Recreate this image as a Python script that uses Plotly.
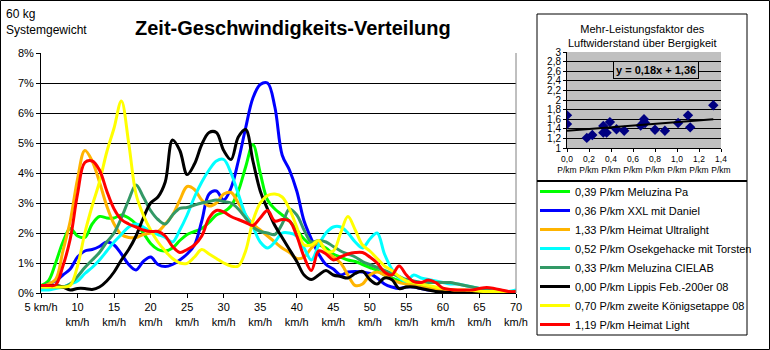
import plotly.graph_objects as go

speeds = list(range(5, 71))

# values in percent, one per km/h from 5 to 70
meluzina_pa = [0.25,0.4,1.0,1.7,2.15,1.9,1.85,2.3,2.55,2.5,
               2.5,2.6,2.5,2.3,2.0,1.65,1.45,1.4,1.5,1.75,
               1.95,2.05,2.15,2.35,2.6,2.7,2.9,3.4,4.2,4.95,
               4.0,3.1,2.8,2.6,2.4,2.1,1.8,1.6,1.6,1.5,
               1.3,1.2,1.1,1.05,0.95,0.85,0.75,0.6,0.5,0.4,
               0.3,0.3,0.25,0.2,0.15,0.1,0.08,0.06,0.05,0.05,
               0.04,0.03,0.03,0.02,0.02,0.02]
xxl_daniel = [0.2,0.3,0.4,0.6,0.8,1.2,1.4,1.45,1.55,1.7,
              1.6,1.3,0.95,0.77,1.05,1.2,0.95,0.88,0.95,1.1,
              1.3,1.6,2.4,3.3,3.4,3.1,3.5,4.4,5.5,6.5,
              6.95,7.0,6.2,4.6,4.1,3.4,2.4,1.8,1.3,0.95,
              0.8,0.6,0.7,0.72,0.7,0.65,0.5,0.3,0.2,0.15,
              0.2,0.2,0.15,0.1,0.1,0.08,0.06,0.05,0.04,0.03,
              0.03,0.02,0.02,0.02,0.02,0.02]
heimat_ultralight = [0.2,0.3,0.45,1.4,2.4,3.8,4.75,4.4,3.7,2.9,
                     2.3,1.95,1.85,1.85,1.95,2.0,2.05,2.3,2.6,3.1,
                     3.55,3.45,3.1,2.9,3.0,3.3,3.35,3.0,2.6,2.3,
                     2.1,1.9,1.7,1.5,1.35,1.15,1.2,1.5,1.7,1.4,
                     1.2,1.0,0.6,0.25,0.3,0.6,0.7,0.6,0.45,0.35,
                     0.3,0.25,0.2,0.15,0.12,0.1,0.08,0.06,0.05,0.04,
                     0.03,0.03,0.02,0.02,0.02,0.02]
osekgehacke = [0.1,0.1,0.15,0.2,0.3,0.4,0.65,0.85,1.1,1.4,
               1.7,1.95,2.2,2.3,2.2,2.05,1.95,1.85,1.7,2.1,
               2.6,3.2,3.7,4.1,4.4,4.45,4.0,3.3,2.6,2.2,
               1.7,1.5,1.7,2.0,2.0,1.9,1.5,1.1,1.6,2.0,
               2.2,2.2,2.0,1.7,1.5,1.8,2.0,1.3,0.8,0.5,
               0.4,0.6,0.5,0.45,0.4,0.35,0.3,0.3,0.25,0.2,
               0.15,0.1,0.1,0.05,0.05,0.1]
meluzina_cielab = [0.2,0.2,0.2,0.2,0.3,0.55,0.85,1.1,1.35,1.7,
                   2.0,2.5,3.1,3.6,3.2,2.75,2.45,2.3,2.6,2.82,
                   2.85,2.93,3.0,3.05,3.1,3.05,3.0,2.8,2.5,2.2,
                   2.05,2.0,1.95,2.3,2.8,2.6,2.1,1.7,1.75,1.7,
                   1.55,1.4,1.3,1.2,1.05,0.95,0.85,0.75,0.65,0.55,
                   0.45,0.4,0.35,0.35,0.35,0.35,0.35,0.3,0.25,0.2,
                   0.15,0.1,0.05,0.05,0.05,0.05]
lippis = [0.25,0.25,0.25,0.2,0.1,0.15,0.15,0.12,0.2,0.4,
          0.7,1.1,1.45,1.9,2.5,3.0,3.2,3.7,5.1,4.75,
          3.95,4.3,4.95,5.35,5.35,4.75,4.45,5.2,5.45,4.4,
          3.4,2.8,2.25,1.85,1.45,1.05,0.6,0.45,0.6,0.75,
          0.6,0.55,0.5,0.65,0.72,0.45,0.3,0.5,0.45,0.15,
          0.2,0.2,0.15,0.1,0.05,0.03,0.03,0.03,0.02,0.02,
          0.02,0.02,0.02,0.02,0.02,0.02]
koenigsetappe = [0.2,0.2,0.2,0.2,0.25,0.9,2.0,2.9,3.7,4.7,
                 5.5,6.4,5.0,3.3,2.6,2.1,1.7,1.4,1.15,1.0,
                 0.99,1.2,1.45,1.3,1.15,1.0,0.9,0.9,1.4,2.4,
                 3.0,3.25,3.3,3.2,2.8,2.2,1.6,1.6,1.75,1.4,
                 1.4,2.0,2.55,2.1,1.6,1.4,1.15,0.9,0.75,0.55,
                 0.4,0.35,0.3,0.25,0.2,0.15,0.12,0.1,0.1,0.08,
                 0.06,0.05,0.05,0.04,0.03,0.03]
heimat_light = [0.25,0.25,0.27,0.9,1.8,3.3,4.35,4.4,4.1,3.4,
                2.8,2.45,2.3,2.2,2.1,2.05,2.05,1.9,1.55,1.35,
                1.45,1.6,1.9,2.5,2.75,2.7,2.55,2.45,2.35,2.25,
                2.5,2.75,2.4,2.45,2.4,1.9,1.2,0.75,1.4,1.3,
                1.1,1.2,1.3,1.35,1.35,1.2,1.0,0.7,0.6,0.9,
                0.6,0.38,0.35,0.43,0.35,0.16,0.12,0.1,0.1,0.1,
                0.15,0.18,0.15,0.1,0.05,0.05]

series_names = ["0,39 P/km Meluzina Pa", "0,36 P/km XXL mit Daniel",
                "1,33 P/km Heimat Ultralight", "0,52 P/km Osekgehacke mit Torsten",
                "0,33 P/km Meluzina CIELAB", "0,00 P/km Lippis Feb.-200er 08",
                "0,70 P/km zweite Königsetappe 08", "1,19 P/km Heimat Light"]
series_values = [meluzina_pa, xxl_daniel, heimat_ultralight, osekgehacke,
                 meluzina_cielab, lippis, koenigsetappe, heimat_light]
series_colors = ["#00FF00", "#0000FF", "#FFB400", "#00FFFF",
                 "#339966", "#000000", "#FFFF00", "#FF0000"]

x_tickvals = list(range(5, 71, 5))
x_ticktext = ["5 km/h"] + [f"{v}<br>km/h" for v in range(10, 71, 5)]

# inset: Bergigkeit (P/km) vs. Mehr-Leistungsfaktor
inset_x = [0.0, 0.0, 0.18, 0.23, 0.33, 0.33, 0.36, 0.39, 0.45, 0.52,
           0.67, 0.70, 0.71, 0.80, 0.89, 1.01, 1.10, 1.12, 1.33]
inset_y = [1.68, 1.50, 1.21, 1.27, 1.46, 1.32, 1.32, 1.54, 1.39, 1.36,
           1.47, 1.60, 1.52, 1.38, 1.36, 1.52, 1.68, 1.43, 1.89]
trend_slope = 0.18
trend_icpt = 1.36
trend_x = [0.0, 1.33]
trend_y = [trend_slope * v + trend_icpt for v in trend_x]
inset_xticks = [0.0, 0.2, 0.4, 0.6, 0.8, 1.0, 1.2, 1.4]
inset_xtext = [f"{v:.1f}".replace(".", ",") + "<br>P/km" for v in inset_xticks]

W, H = 770, 350
def px(x):
    return x / W
def py(y):
    return 1 - y / H

fig = go.Figure()
for name, vals, col in zip(series_names, series_values, series_colors):
    fig.add_trace(go.Scatter(x=speeds, y=[v / 100 for v in vals], name=name,
                             mode="lines", line=dict(color=col, width=3, shape="spline", smoothing=1.0),
                             xaxis="x", yaxis="y"))

fig.add_trace(go.Scatter(x=inset_x, y=inset_y, mode="markers", showlegend=False,
                         marker=dict(symbol="diamond", size=8, color="#000080"),
                         xaxis="x2", yaxis="y2"))
fig.add_trace(go.Scatter(x=trend_x, y=trend_y, mode="lines", showlegend=False,
                         line=dict(color="black", width=2), xaxis="x2", yaxis="y2"))

font_main = "Arial, Liberation Sans, sans-serif"

fig.update_layout(
    width=W, height=H, margin=dict(l=0, r=0, t=0, b=0, autoexpand=False),
    paper_bgcolor="white", plot_bgcolor="rgba(0,0,0,0)",
    separators=",.",
    font=dict(family=font_main, color="black", size=11),
    xaxis=dict(domain=[px(41), px(516)], range=[5, 70], tickvals=x_tickvals, ticktext=x_ticktext,
               showgrid=False, zeroline=False, showline=True, linecolor="black", linewidth=1,
               ticks="outside", ticklen=4, tickcolor="black", tickfont=dict(size=11), anchor="y",
               automargin=False),
    yaxis=dict(domain=[py(293), py(53)], range=[0, 0.08], dtick=0.01, tickformat=".0%",
               showgrid=True, gridcolor="black", gridwidth=1, zeroline=False,
               showline=True, linecolor="black", linewidth=1,
               ticks="outside", ticklen=4, tickcolor="black", tickfont=dict(size=11), anchor="x",
               automargin=False),
    xaxis2=dict(domain=[px(567), px(721)], range=[0, 1.4], tickvals=inset_xticks, ticktext=inset_xtext,
                showgrid=False, zeroline=False, showline=True, linecolor="black", linewidth=1,
                ticks="outside", ticklen=3, tickcolor="black", tickfont=dict(size=8.5), anchor="y2",
                automargin=False),
    yaxis2=dict(domain=[py(148), py(52)], range=[1, 3], dtick=0.2, tickformat="~g",
                showgrid=True, gridcolor="black", gridwidth=1, zeroline=False,
                showline=True, linecolor="black", linewidth=1,
                ticks="outside", ticklen=3, tickcolor="black", tickfont=dict(size=10), anchor="x2",
                automargin=False),
    showlegend=True,
    legend=dict(x=px(535), y=py(177), xanchor="left", yanchor="top", bgcolor="rgba(0,0,0,0)",
                borderwidth=0, font=dict(size=11, family=font_main), itemwidth=30,
                tracegroupgap=0, traceorder="normal"),
    shapes=[
        dict(type="rect", xref="paper", yref="paper", x0=px(0.5), x1=px(769.5), y0=py(349.5), y1=py(0.5),
             line=dict(color="black", width=1), layer="below"),
        dict(type="rect", xref="x2 domain", yref="y2 domain", x0=0, x1=1, y0=0, y1=1,
             fillcolor="#C0C0C0", line=dict(width=0), layer="below"),
        dict(type="rect", xref="paper", yref="paper", x0=px(537), x1=px(747), y0=py(181), y1=py(14),
             line=dict(color="black", width=1), layer="below"),
        dict(type="rect", xref="paper", yref="paper", x0=px(537), x1=px(747), y0=py(335), y1=py(181),
             line=dict(color="black", width=1), layer="below"),
        dict(type="line", xref="paper", yref="paper", x0=px(537), x1=px(747), y0=py(181), y1=py(181),
             line=dict(color="black", width=2)),
        dict(type="line", xref="x domain", yref="y domain", x0=1, x1=1, y0=0, y1=1,
             line=dict(color="#808080", width=1)),
    ],
    annotations=[
        dict(text="Zeit-Geschwindigkeits-Verteilung", xref="paper", yref="paper", x=px(293), y=py(28),
             xanchor="center", yanchor="middle", showarrow=False,
             font=dict(size=20, family=font_main, color="black", weight="bold")),
        dict(text="60 kg<br>Systemgewicht", xref="paper", yref="paper", x=px(4), y=py(5),
             xanchor="left", yanchor="top", align="left", showarrow=False,
             font=dict(size=12, family=font_main)),
        dict(text="Mehr-Leistungsfaktor des<br>Luftwiderstand über Bergigkeit", xref="paper", yref="paper",
             x=px(642), y=py(36), xanchor="center", yanchor="middle", align="center", showarrow=False,
             font=dict(size=11, family=font_main)),
        dict(text="<b>y = 0,18x + 1,36</b>", xref="paper", yref="paper", x=px(656), y=py(69.5),
             xanchor="center", yanchor="middle", showarrow=False, bgcolor="#C0C0C0",
             bordercolor="black", borderwidth=1, borderpad=2,
             font=dict(size=11, family=font_main)),
    ],
)

fig.write_html("out.html")
